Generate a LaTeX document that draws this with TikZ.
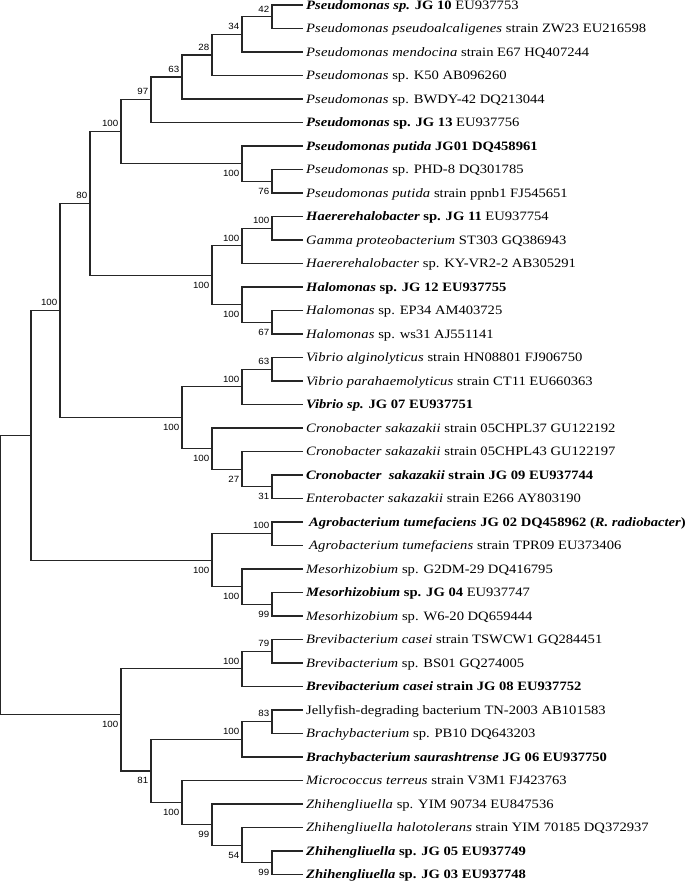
\documentclass[tikz,border=0pt]{standalone}
\usepackage{fontspec}
\setmainfont{Liberation Serif}[FakeStretch=1.14,ItalicFeatures={LetterSpace=1}]
\newfontfamily\lblfont{Liberation Sans}[FakeStretch=1.08]
\newcommand\LY[1]{(5+23.5*((#1)-1))}
\newcommand\leaf[3][0]{\coordinate (t#2) at (303,{\LY{#2}});
  \node[lf] (L#2) at ({306+#1},{\LY{#2}+4.1}) {#3};}
\newcommand\br[3]{\draw[edge] (#2) -| (#1) |- (#3);}
\newcommand\lup[2]{\node[bslup] at ([xshift=-2.5bp,yshift=4.5bp]#1) {#2};}
\newcommand\ldn[2]{\node[bsldn] at ([xshift=-2.5bp,yshift=-6.5bp]#1) {#2};}
\begin{document}
\begin{tikzpicture}[x=1bp,y=-1bp,
  edge/.style={draw=black!85,line width=1.15bp},
  lf/.style={anchor=base west,inner sep=0pt,font=\fontsize{12.8bp}{15bp}\selectfont},
  bslup/.style={anchor=south east,inner sep=0pt,font=\lblfont\fontsize{9bp}{10bp}\selectfont},
  bsldn/.style={anchor=north east,inner sep=0pt,font=\lblfont\fontsize{9bp}{10bp}\selectfont}]
\useasboundingbox (0,0) rectangle (685,882);
% leaves
\leaf{1}{\textbf{\textit{Pseudomonas sp.} JG 10} EU937753}
\leaf{2}{\textit{Pseudomonas pseudoalcaligenes} strain ZW23 EU216598}
\leaf{3}{\textit{Pseudomonas mendocina} strain E67 HQ407244}
\leaf{4}{\textit{Pseudomonas} sp. K50 AB096260}
\leaf{5}{\textit{Pseudomonas} sp. BWDY-42 DQ213044}
\leaf{6}{\textbf{\textit{Pseudomonas} sp. JG 13} EU937756}
\leaf{7}{\textbf{\textit{Pseudomonas putida} JG01 DQ458961}}
\leaf{8}{\textit{Pseudomonas} sp. PHD-8 DQ301785}
\leaf{9}{\textit{Pseudomonas putida} strain ppnb1 FJ545651}
\leaf{10}{\textbf{\textit{Haererehalobacter} sp. JG 11} EU937754}
\leaf{11}{\textit{Gamma proteobacterium} ST303 GQ386943}
\leaf{12}{\textit{Haererehalobacter} sp. KY-VR2-2 AB305291}
\leaf{13}{\textbf{\textit{Halomonas} sp. JG 12 EU937755}}
\leaf{14}{\textit{Halomonas} sp. EP34 AM403725}
\leaf{15}{\textit{Halomonas} sp. ws31 AJ551141}
\leaf{16}{\textit{Vibrio alginolyticus} strain HN08801 FJ906750}
\leaf{17}{\textit{Vibrio parahaemolyticus} strain CT11 EU660363}
\leaf{18}{\textbf{\textit{Vibrio sp.} JG 07 EU937751}}
\leaf{19}{\textit{Cronobacter sakazakii} strain 05CHPL37 GU122192}
\leaf{20}{\textit{Cronobacter sakazakii} strain 05CHPL43 GU122197}
\leaf{21}{\textbf{\textit{Cronobacter~ sakazakii} strain JG 09 EU937744}}
\leaf{22}{\textit{Enterobacter sakazakii} strain E266 AY803190}
\leaf[3]{23}{\textbf{\textit{Agrobacterium tumefaciens} JG 02 DQ458962 (\textit{R. radiobacter})}}
\leaf[3]{24}{\textit{Agrobacterium tumefaciens} strain TPR09 EU373406}
\leaf{25}{\textit{Mesorhizobium} sp. G2DM-29 DQ416795}
\leaf{26}{\textbf{\textit{Mesorhizobium} sp. JG 04} EU937747}
\leaf{27}{\textit{Mesorhizobium} sp. W6-20 DQ659444}
\leaf{28}{\textit{Brevibacterium casei} strain TSWCW1 GQ284451}
\leaf{29}{\textit{Brevibacterium} sp. BS01 GQ274005}
\leaf{30}{\textbf{\textit{Brevibacterium casei} strain JG 08 EU937752}}
\leaf{31}{Jellyfish-degrading bacterium TN-2003 AB101583}
\leaf{32}{\textit{Brachybacterium} sp. PB10 DQ643203}
\leaf{33}{\textbf{\textit{Brachybacterium saurashtrense} JG 06 EU937750}}
\leaf{34}{\textit{Micrococcus terreus} strain V3M1 FJ423763}
\leaf{35}{\textit{Zhihengliuella} sp. YIM 90734 EU847536}
\leaf{36}{\textit{Zhihengliuella halotolerans} strain YIM 70185 DQ372937}
\leaf{37}{\textbf{\textit{Zhihengliuella} sp. JG 05 EU937749}}
\leaf{38}{\textbf{\textit{Zhihengliuella} sp. JG 03 EU937748}}
% internal nodes
\coordinate (n42)  at (272,{\LY{1.5}});
\coordinate (n34)  at (242,{\LY{2.25}});
\coordinate (n28)  at (212,{\LY{3.125}});
\coordinate (n63)  at (182,{\LY{4.0625}});
\coordinate (n97)  at (151,{\LY{5.03125}});
\coordinate (nP76) at (272,{\LY{8.5}});
\coordinate (nPut) at (242,{\LY{7.75}});
\coordinate (nPs)  at (121,{\LY{6.390625}});
\coordinate (nH1)  at (272,{\LY{10.5}});
\coordinate (nH2)  at (242,{\LY{11.25}});
\coordinate (nH67) at (272,{\LY{14.5}});
\coordinate (nHal) at (242,{\LY{13.75}});
\coordinate (nHH)  at (212,{\LY{12.5}});
\coordinate (n80)  at (90,{\LY{9.4453}});
\coordinate (nV63) at (272,{\LY{16.5}});
\coordinate (nVib) at (242,{\LY{17.25}});
\coordinate (nC31) at (272,{\LY{21.5}});
\coordinate (nC27) at (242,{\LY{20.75}});
\coordinate (nCro) at (212,{\LY{19.875}});
\coordinate (nVC)  at (182,{\LY{18.5625}});
\coordinate (nG)   at (60,{\LY{14.0039}});
\coordinate (nAgr) at (272,{\LY{23.5}});
\coordinate (nM99) at (272,{\LY{26.5}});
\coordinate (nMes) at (242,{\LY{25.75}});
\coordinate (nAM)  at (212,{\LY{24.625}});
\coordinate (nProt) at (31,{\LY{19.3145}});
\coordinate (nB79) at (272,{\LY{28.5}});
\coordinate (nBre) at (242,{\LY{29.25}});
\coordinate (nJ83) at (272,{\LY{31.5}});
\coordinate (nBra) at (242,{\LY{32.25}});
\coordinate (nZ99b) at (272,{\LY{37.5}});
\coordinate (nZ54) at (242,{\LY{36.75}});
\coordinate (nZ99) at (212,{\LY{35.875}});
\coordinate (nMZ)  at (182,{\LY{34.9375}});
\coordinate (n81)  at (151,{\LY{33.59375}});
\coordinate (nAct) at (121,{\LY{31.2}});
\coordinate (root) at (0.6,{\LY{25.3}});
% branches
\br{n42}{t1}{t2}
\br{n34}{n42}{t3}
\br{n28}{n34}{t4}
\br{n63}{n28}{t5}
\br{n97}{n63}{t6}
\br{nP76}{t8}{t9}
\br{nPut}{t7}{nP76}
\br{nPs}{n97}{nPut}
\br{nH1}{t10}{t11}
\br{nH2}{nH1}{t12}
\br{nH67}{t14}{t15}
\br{nHal}{t13}{nH67}
\br{nHH}{nH2}{nHal}
\br{n80}{nPs}{nHH}
\br{nV63}{t16}{t17}
\br{nVib}{nV63}{t18}
\br{nC31}{t21}{t22}
\br{nC27}{t20}{nC31}
\br{nCro}{t19}{nC27}
\br{nVC}{nVib}{nCro}
\br{nG}{n80}{nVC}
\br{nAgr}{t23}{t24}
\br{nM99}{t26}{t27}
\br{nMes}{t25}{nM99}
\br{nAM}{nAgr}{nMes}
\br{nProt}{nG}{nAM}
\br{nB79}{t28}{t29}
\br{nBre}{nB79}{t30}
\br{nJ83}{t31}{t32}
\br{nBra}{nJ83}{t33}
\br{nZ99b}{t37}{t38}
\br{nZ54}{t36}{nZ99b}
\br{nZ99}{t35}{nZ54}
\br{nMZ}{t34}{nZ99}
\br{n81}{nBra}{nMZ}
\br{nAct}{nBre}{n81}
\br{root}{nProt}{nAct}
% support values
\lup{n42}{42}
\lup{n34}{34}
\lup{n28}{28}
\lup{n63}{63}
\lup{n97}{97}
\lup{nPs}{100}
\ldn{nPut}{100}
\ldn{nP76}{76}
\lup{n80}{80}
\lup{nH1}{100}
\lup{nH2}{100}
\ldn{nHH}{100}
\ldn{nHal}{100}
\ldn{nH67}{67}
\lup{nG}{100}
\lup{nV63}{63}
\lup{nVib}{100}
\ldn{nVC}{100}
\ldn{nCro}{100}
\ldn{nC27}{27}
\ldn{nC31}{31}
\lup{nAgr}{100}
\ldn{nAM}{100}
\ldn{nMes}{100}
\ldn{nM99}{99}
\lup{nB79}{79}
\lup{nBre}{100}
\ldn{nAct}{100}
\lup{nJ83}{83}
\lup{nBra}{100}
\ldn{n81}{81}
\ldn{nMZ}{100}
\ldn{nZ99}{99}
\ldn{nZ54}{54}
\ldn{nZ99b}{99}
\end{tikzpicture}
\end{document}
